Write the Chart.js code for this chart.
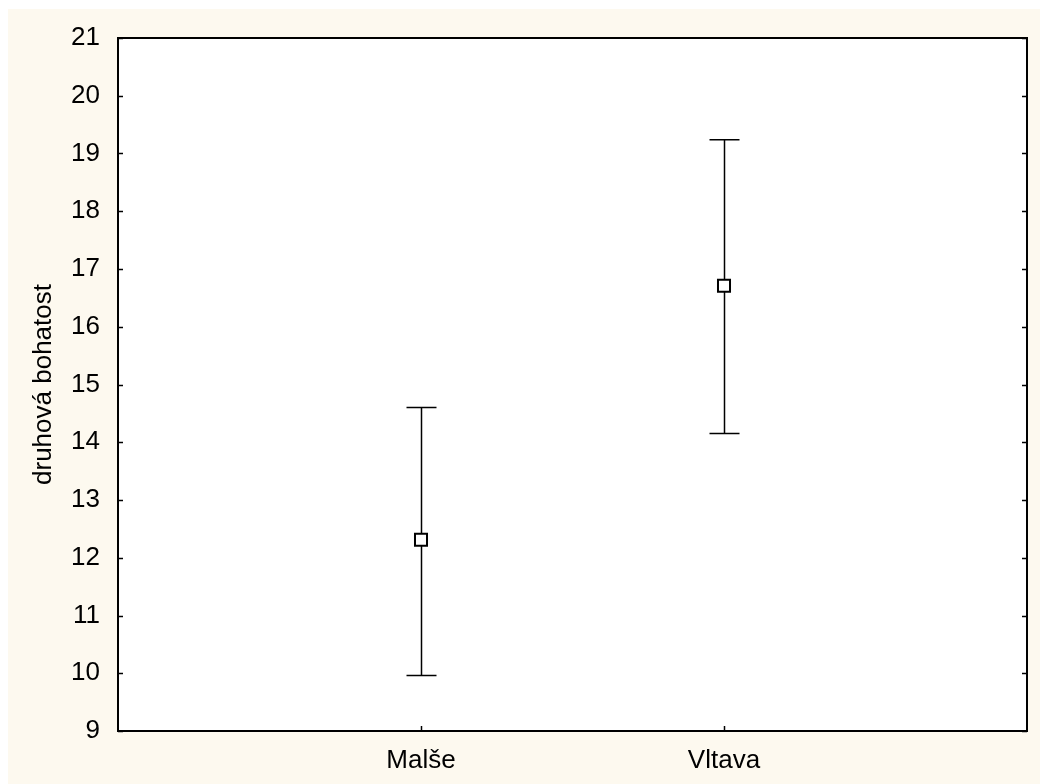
<!DOCTYPE html>
<html>
<head>
<meta charset="utf-8">
<script src="https://cdn.jsdelivr.net/npm/chart.js@4/dist/chart.umd.min.js"></script>
<style>
  html, body { margin: 0; padding: 0; background: #fff; }
  #wrap { width: 1040px; height: 784px; }
</style>
</head>
<body>
<div id="wrap"><canvas id="c" width="1040" height="784"></canvas></div>
<script>
// group means with lower / upper limits of the whiskers
const groups = ["Malše", "Vltava"];
const means  = [12.31, 16.71];
const lower  = [9.96, 14.15];
const upper  = [14.60, 19.24];
const yTicks = [9, 10, 11, 12, 13, 14, 15, 16, 17, 18, 19, 20, 21];

const points = groups.map((g, i) => ({ x: i + 1, y: means[i] }));

// cream page, white plot area, frame and inward ticks
const frame = {
  id: "frame",
  beforeDraw(chart) {
    const { ctx, chartArea: a } = chart;
    ctx.save();
    ctx.fillStyle = "#ffffff";
    ctx.fillRect(0, 0, chart.width, chart.height);
    ctx.fillStyle = "#fdf9ef";
    ctx.fillRect(8, 9, chart.width - 8, chart.height - 9);
    ctx.fillStyle = "#ffffff";
    ctx.fillRect(a.left, a.top, a.right - a.left, a.bottom - a.top);
    ctx.restore();
  },
  afterDraw(chart) {
    const { ctx, chartArea: a, scales } = chart;
    ctx.save();
    ctx.strokeStyle = "#000";
    ctx.lineWidth = 1.5;
    yTicks.forEach(v => {
      const y = Math.round(scales.y.getPixelForValue(v)) + 0.5;
      ctx.beginPath();
      ctx.moveTo(a.left, y); ctx.lineTo(a.left + 5, y);
      ctx.moveTo(a.right, y); ctx.lineTo(a.right - 5, y);
      ctx.stroke();
    });
    groups.forEach((g, i) => {
      const x = Math.round(scales.x.getPixelForValue(i + 1)) + 0.5;
      ctx.beginPath();
      ctx.moveTo(x, a.bottom); ctx.lineTo(x, a.bottom - 5);
      ctx.stroke();
    });
    ctx.lineWidth = 2;
    ctx.strokeRect(a.left, a.top, a.right - a.left, a.bottom - a.top);
    ctx.restore();
  }
};

const whiskers = {
  id: "whiskers",
  beforeDatasetsDraw(chart) {
    const { ctx, scales } = chart;
    ctx.save();
    ctx.strokeStyle = "#000";
    ctx.lineWidth = 1.5;
    groups.forEach((g, i) => {
      const x = Math.round(scales.x.getPixelForValue(i + 1)) + 0.5;
      const yl = scales.y.getPixelForValue(lower[i]);
      const yu = scales.y.getPixelForValue(upper[i]);
      ctx.beginPath();
      ctx.moveTo(x, yl); ctx.lineTo(x, yu);
      ctx.moveTo(x - 15, yl); ctx.lineTo(x + 15, yl);
      ctx.moveTo(x - 15, yu); ctx.lineTo(x + 15, yu);
      ctx.stroke();
    });
    ctx.restore();
  }
};

new Chart(document.getElementById("c"), {
  type: "scatter",
  data: {
    datasets: [{
      data: points,
      pointStyle: "rect",
      pointRadius: 8.5,
      pointBackgroundColor: "#fff",
      pointBorderColor: "#000",
      pointBorderWidth: 2,
      showLine: false
    }]
  },
  options: {
    responsive: false,
    animation: false,
    layout: { padding: { left: 0, top: 38, right: 13, bottom: 0 } },
    plugins: { legend: { display: false }, tooltip: { enabled: false } },
    scales: {
      x: {
        type: "linear",
        min: 0, max: 3,
        afterFit: s => { s.height = 53; },
        afterBuildTicks: s => { s.ticks = groups.map((g, i) => ({ value: i + 1 })); },
        grid: { display: false, drawTicks: false },
        border: { display: false },
        ticks: {
          padding: 14,
          color: "#000",
          font: { family: "Liberation Sans", size: 26 },
          callback: v => groups[v - 1] || ""
        }
      },
      y: {
        min: 9, max: 21,
        afterFit: s => { s.width = 118; },
        afterBuildTicks: s => { s.ticks = yTicks.map(v => ({ value: v })); },
        grid: { display: false, drawTicks: false },
        border: { display: false },
        ticks: {
          padding: 18,
          color: "#000",
          font: { family: "Liberation Sans", size: 26 }
        },
        title: {
          display: true,
          text: "druhová bohatost",
          color: "#000",
          font: { family: "Liberation Sans", size: 26 },
          padding: { top: 28, bottom: 0 }
        }
      }
    }
  },
  plugins: [frame, whiskers]
});
</script>
</body>
</html>
